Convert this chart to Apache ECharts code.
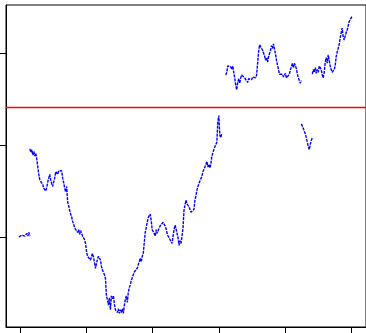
<!DOCTYPE html>
<html>
<head>
<meta charset="utf-8">
<script src="https://cdn.jsdelivr.net/npm/echarts@6/dist/echarts.min.js"></script>
<style>
  html, body { margin: 0; padding: 0; background: #fff; }
  #chart { width: 366px; height: 333px; }
</style>
</head>
<body>
<div id="chart"></div>
<script>
// the series comes in broken pieces; each piece starts at a day and steps 3 days
const segStart = [-3, 30, 621, 849, 882]
const seg1 = [10.0, 10.1, 9.9, 10.2, 10.1, 10.3, 10.1, 10.2, 10.4, 10.1, 10.5, 10.1]
const seg2 = [
  19.6, 19.2, 19.5, 18.9, 19.3, 18.8, 19.1, 18.4, 17.6, 16.8,
  16.2, 16.4, 16.0, 15.7, 15.3, 15.5, 15.0, 15.4, 16.0, 16.4,
  16.8, 16.2, 15.8, 15.5, 16.0, 16.4, 17.1, 17.3, 16.8, 17.2,
  17.4, 17.0, 17.2, 16.4, 15.9, 15.3, 14.9, 15.5, 13.8, 13.4,
  12.9, 12.5, 12.2, 11.7, 11.4, 11.0, 10.8, 10.9, 10.5, 10.8,
  10.3, 10.7, 10.4, 10.1, 10.0, 9.7, 9.3, 8.4, 7.9, 7.7,
  8.0, 7.5, 7.9, 8.2, 7.8, 7.6, 6.6, 7.1, 7.6, 7.9,
  7.7, 7.5, 6.8, 6.4, 6.2, 5.9, 5.5, 3.6, 3.2, 2.6,
  3.4, 2.1, 3.6, 3.3, 3.6, 2.7, 2.1, 2.3, 1.8, 2.2,
  1.7, 2.1, 1.8, 2.2, 1.7, 2.6, 3.2, 3.6, 2.9, 4.0,
  4.5, 4.8, 5.3, 5.4, 5.9, 6.2, 6.4, 6.3, 6.6, 7.0,
  7.3, 7.7, 7.3, 7.9, 8.2, 8.3, 10.5, 11.0, 11.6, 12.1,
  12.3, 12.5, 11.8, 10.8, 11.0, 10.4, 10.1, 10.8, 10.4, 10.7,
  10.9, 11.2, 11.0, 11.4, 11.6, 11.7, 11.2, 10.9, 10.4, 10.1,
  10.3, 9.7, 9.9, 9.3, 10.1, 10.8, 11.3, 10.9, 10.4, 9.9,
  9.1, 9.6, 9.3, 10.1, 11.0, 12.9, 13.5, 14.0, 13.6, 13.7,
  13.3, 13.0, 12.7, 12.9, 12.5, 13.0, 14.0, 14.5, 15.1, 15.5,
  15.8, 16.1, 16.0, 16.6, 17.1, 17.3, 17.6, 17.8, 18.2, 17.6,
  17.9, 17.5, 17.9, 18.8, 19.0, 19.5, 19.8, 19.9, 20.3, 22.5,
  23.2, 21.1, 20.8, 21.3
]
const seg3 = [
  27.6, 27.9, 28.6, 28.4, 28.8, 28.5, 28.2, 28.6, 27.9, 27.3,
  26.5, 26.0, 26.8, 27.2, 26.7, 27.3, 27.6, 27.4, 27.8, 27.3,
  27.1, 27.5, 26.8, 27.2, 27.0, 27.3, 27.1, 27.4, 27.2, 27.5,
  27.3, 27.6, 27.7, 30.1, 30.9, 31.1, 30.7, 30.3, 30.0, 29.7,
  29.2, 29.5, 29.0, 29.6, 29.8, 30.3, 30.8, 30.5, 31.0, 30.4,
  29.9, 29.2, 28.7, 28.2, 27.7, 27.9, 27.5, 27.7, 27.4, 27.6,
  27.8, 27.3, 27.5, 27.1, 27.7, 28.2, 28.5, 28.9, 28.4, 28.9,
  28.6, 28.3, 27.7, 27.3, 27.1, 26.7, 27.0
]
const seg4 = [22.3, 22.1, 21.8, 21.5, 21.2, 20.8, 20.3, 19.8, 19.5, 20.1, 20.5, 20.8]
const seg5 = [
  27.7, 28.2, 27.9, 28.4, 27.8, 28.2, 27.9, 28.6, 28.8, 28.2,
  27.6, 27.3, 27.9, 29.0, 29.5, 28.9, 29.8, 29.2, 28.6, 28.2,
  27.9, 27.7, 28.2, 28.6, 29.6, 30.1, 30.5, 30.9, 31.6, 32.2,
  32.7, 31.8, 31.4, 31.6, 32.2, 32.5, 32.9, 33.4, 33.6, 33.8,
  34.0
]
const xTicks = [0, 200, 400, 600, 800, 1000]
const yTicks = [10, 20, 30]
const refLevel = 24.08

const X_MIN = -42, X_MAX = 1044
const Y_MIN = 0.22, Y_MAX = 35.22

const segments = [seg1, seg2, seg3, seg4, seg5]

const chart = echarts.init(document.getElementById('chart'), null, { renderer: 'canvas' })

const series = segments.map((vals, k) => ({
  type: 'line',
  data: vals.map((v, i) => [segStart[k] + 3 * i, v]),
  showSymbol: false,
  symbol: 'none',
  lineStyle: { color: '#0000ff', width: 1.4, type: [3, 1] },
  silent: true,
  z: 3
}))

// horizontal reference line across the whole plot
series.push({
  type: 'line',
  data: [[X_MIN, refLevel], [X_MAX, refLevel]],
  showSymbol: false,
  symbol: 'none',
  itemStyle: { color: '#ff0000' },
  lineStyle: { color: '#ff0000', width: 1.6, opacity: 1 },
  silent: true,
  z: 2
})

chart.setOption({
  backgroundColor: '#fff',
  animation: false,
  grid: {
    left: 6, top: 5, width: 362, height: 322,
    show: true, borderColor: '#000', borderWidth: 1
  },
  xAxis: {
    type: 'value',
    min: X_MIN, max: X_MAX,
    axisLine: { show: true, onZero: false, lineStyle: { color: '#000' } },
    axisTick: { show: true, length: 6, customValues: xTicks, lineStyle: { color: '#000' } },
    axisLabel: { show: false },
    splitLine: { show: false }
  },
  yAxis: {
    type: 'value',
    min: Y_MIN, max: Y_MAX,
    axisLine: { show: true, onZero: false, lineStyle: { color: '#000' } },
    axisTick: { show: true, length: 6, customValues: yTicks, lineStyle: { color: '#000' } },
    axisLabel: { show: false },
    splitLine: { show: false }
  },
  series
})
</script>
</body>
</html>
